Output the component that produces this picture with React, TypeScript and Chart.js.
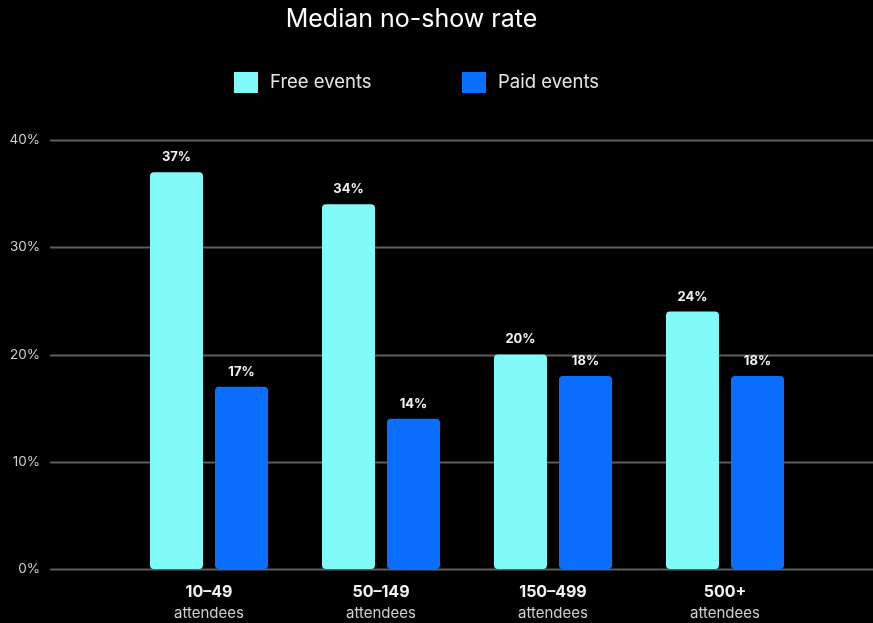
import React, { useEffect, useRef } from "react";
import { Chart, registerables } from "chart.js";

Chart.register(...registerables);

const categories = ["10–49", "50–149", "150–499", "500+"];
const subLabel = "attendees";
const freeEvents = [37, 34, 20, 24];
const paidEvents = [17, 14, 18, 18];
const seriesNames = ["Free events", "Paid events"];
const yTicks = [0, 10, 20, 30, 40];
const titleText = "Median no-show rate";

const FREE_COLOR = "#80FBF9";
const PAID_COLOR = "#0A6EFF";
const FONT = "Inter, 'Open Sans', sans-serif";

const decorPlugin = {
  id: "decor",
  beforeDraw(chart: any) {
    const ctx = chart.ctx;
    ctx.save();
    ctx.fillStyle = "#000";
    ctx.fillRect(0, 0, chart.width, chart.height);
    ctx.restore();
  },
  beforeDatasetsDraw(chart: any) {
    const ctx = chart.ctx;
    const y = chart.scales.y;
    ctx.save();
    ctx.strokeStyle = "#5e5e5e";
    ctx.lineWidth = 2;
    yTicks.forEach((v) => {
      const py = Math.round(y.getPixelForValue(v)) + 0.5;
      ctx.beginPath();
      ctx.moveTo(50, py);
      ctx.lineTo(chart.width, py);
      ctx.stroke();
    });
    ctx.restore();
  },
  afterDatasetsDraw(chart: any) {
    const ctx = chart.ctx;
    ctx.save();
    // value labels
    ctx.fillStyle = "#f2f2f2";
    ctx.font = `bold 13px ${FONT}`;
    ctx.textAlign = "center";
    ctx.textBaseline = "middle";
    chart.data.datasets.forEach((ds: any, di: number) => {
      const meta = chart.getDatasetMeta(di);
      meta.data.forEach((bar: any, i: number) => {
        ctx.fillText(ds.data[i] + "%", bar.x, bar.y - 15);
      });
    });
    // x labels
    const xs = chart.scales.x;
    categories.forEach((c, i) => {
      const px = xs.getPixelForValue(i);
      ctx.fillStyle = "#f2f2f2";
      ctx.font = `bold 16px ${FONT}`;
      ctx.fillText(c, px, 592);
      ctx.fillStyle = "#cfcfcf";
      ctx.font = `15px ${FONT}`;
      ctx.fillText(subLabel, px, 613);
    });
    // title
    ctx.fillStyle = "#ffffff";
    ctx.font = `25px ${FONT}`;
    ctx.fillText(titleText, 411.5, 19);
    // legend
    const colors = [FREE_COLOR, PAID_COLOR];
    const boxX = [234, 462];
    ctx.font = `18.5px ${FONT}`;
    ctx.textAlign = "left";
    seriesNames.forEach((n, i) => {
      ctx.fillStyle = colors[i];
      ctx.fillRect(boxX[i], 72, 24, 21);
      ctx.fillStyle = "#e6e6e6";
      ctx.fillText(n, boxX[i] + 36, 82.5);
    });
    ctx.restore();
  },
};

export default function App() {
  const ref = useRef<HTMLCanvasElement>(null);
  useEffect(() => {
    if (!ref.current) return;
    const chart = new Chart(ref.current, {
      type: "bar",
      data: {
        labels: categories,
        datasets: [
          {
            label: seriesNames[0],
            data: freeEvents,
            backgroundColor: FREE_COLOR,
            borderRadius: 4,
            borderSkipped: false,
            categoryPercentage: 0.756,
            barPercentage: 0.815,
          },
          {
            label: seriesNames[1],
            data: paidEvents,
            backgroundColor: PAID_COLOR,
            borderRadius: 4,
            borderSkipped: false,
            categoryPercentage: 0.756,
            barPercentage: 0.815,
          },
        ],
      },
      options: {
        animation: false,
        responsive: false,
        layout: { padding: { top: 140, right: 62, bottom: 54, left: 0 } },
        plugins: {
          legend: { display: false },
          title: { display: false },
          tooltip: { enabled: false },
        },
        scales: {
          x: {
            display: false,
          },
          y: {
            min: 0,
            max: 40,
            grid: { display: false, drawTicks: false },
            border: { display: false },
            afterFit: (s: any) => {
              s.width = 123;
              s.paddingTop = 8;
              s.paddingBottom = 8;
            },
            ticks: {
              stepSize: 10,
              padding: 83,
              color: "#cfcfcf",
              font: { family: FONT, size: 13.5 },
              callback: (v: any) => v + "%",
            },
          },
        },
      },
      plugins: [decorPlugin],
    });
    return () => chart.destroy();
  }, []);
  return (
    <div style={{ position: "fixed", left: 0, top: 0, width: 873, height: 623, background: "#000" }}>
      <canvas ref={ref} width={873} height={623} />
    </div>
  );
}
